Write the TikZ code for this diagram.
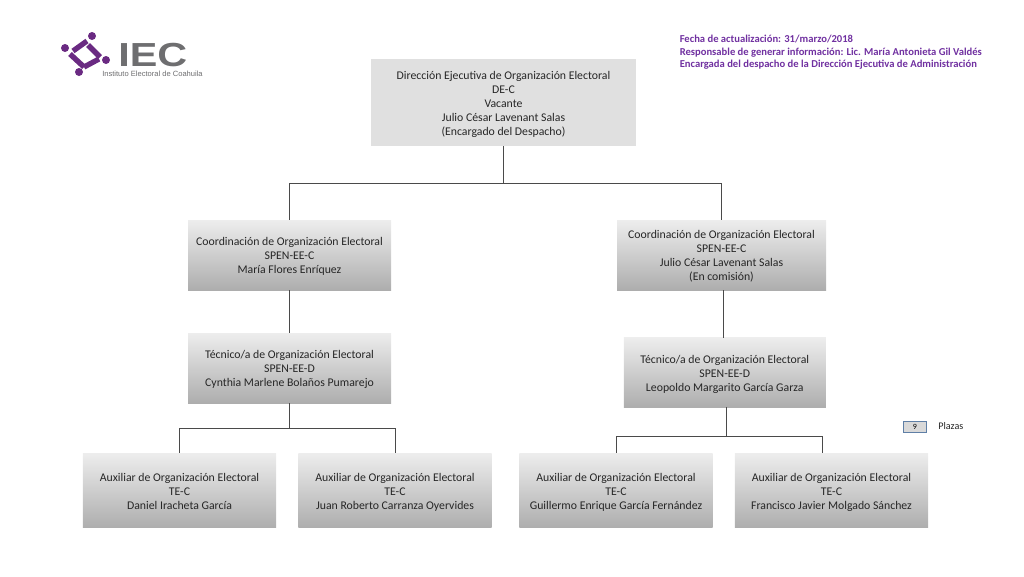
\documentclass[tikz,border=0pt]{standalone}
\usepackage{fontspec}
\setmainfont{Carlito}
\newfontfamily\logofont{Liberation Sans}
\definecolor{purp}{HTML}{7030A0}
\definecolor{logop}{HTML}{6A2A82}
\definecolor{logog}{HTML}{6E6E70}
\definecolor{lin}{HTML}{4A4A4A}
\definecolor{legb}{HTML}{5F7FA6}
\newcommand\tstr{\rule{0pt}{10.35pt}}
\tikzset{
 base/.style={inner sep=0pt,align=center,font=\fontsize{8.83pt}{10.5pt}\selectfont,text=black!85},
 flatbox/.style={base,fill=black!12,minimum width=199pt,minimum height=65.25pt},
 gradbox/.style={base,top color=black!7,bottom color=black!32},
 conn/.style={draw=lin,line width=.6pt},
 note/.style={anchor=west,inner sep=0pt,text=purp,font=\fontsize{7.95pt}{8pt}\selectfont\bfseries},
 bar/.style={line width=4pt,draw=logop},
 dot/.style={circle,fill=logop,inner sep=0pt,minimum size=6pt},
}
\begin{document}
\begin{tikzpicture}[x=.75pt,y=-.75pt]
\useasboundingbox (0,0) rectangle (1024,576);
% logo
\node[dot] (d1) at (65,48) {};
\node[dot] (d2) at (92,36) {};
\node[dot] (d3) at (106,60) {};
\node[dot] (d4) at (79,72) {};
\draw[bar] (73,51) -- (87,41);
\draw[bar] (88,45) -- (100,57);
\draw[bar] (70,54) -- (84,67);
\draw[bar] (84,67) -- (99,59);
\node[anchor=base west,inner sep=0pt,text depth=0pt,text=logog,xscale=1.24,font=\logofont\bfseries\fontsize{25pt}{25pt}\selectfont] (logot) at (118,66) {IEC};
\node[anchor=west,inner sep=0pt,text=logog,font=\logofont\fontsize{5.67pt}{6pt}\selectfont] (logos) at (102,73.5) {Instituto Electoral de Coahuila};
% notes
\node[note] (n1) at (679.5,39.5) {Fecha de actualización: 31/marzo/2018};
\node[note] (n2) at (679.5,52.5) {Responsable de generar información: Lic. María Antonieta Gil Valdés};
\node[note] (n3) at (679.5,65) {Encargada del despacho de la Dirección Ejecutiva de Administración};
% boxes
\node[flatbox] (top) at (503.5,102.5) {\tstr Dirección Ejecutiva de Organización Electoral\\DE-C\\Vacante\\Julio César Lavenant Salas\\(Encargado del Despacho)\strut};
\node[gradbox,minimum width=152.25pt,minimum height=52.5pt] (c1) at (289.5,255) {\tstr Coordinación de Organización Electoral\\SPEN-EE-C\\María Flores Enríquez\strut};
\node[gradbox,minimum width=156.75pt,minimum height=52.5pt] (c2) at (721.5,255) {\tstr Coordinación de Organización Electoral\\SPEN-EE-C\\Julio César Lavenant Salas\\(En comisión)\strut};
\node[gradbox,minimum width=152.25pt,minimum height=52.5pt] (t1) at (289.5,368) {\tstr Técnico/a de Organización Electoral\\SPEN-EE-D\\Cynthia Marlene Bolaños Pumarejo\strut};
\node[gradbox,minimum width=151.5pt,minimum height=52pt] (t2) at (724.75,372.5) {\tstr Técnico/a de Organización Electoral\\SPEN-EE-D\\Leopoldo Margarito García Garza\strut};
\node[gradbox,minimum width=145pt,minimum height=56pt] (a1) at (179.5,490.5) {\tstr Auxiliar de Organización Electoral\\TE-C\\Daniel Iracheta García\strut};
\node[gradbox,minimum width=145pt,minimum height=56pt] (a2) at (395,490.5) {\tstr Auxiliar de Organización Electoral\\TE-C\\Juan Roberto Carranza Oyervides\strut};
\node[gradbox,minimum width=145pt,minimum height=56pt] (a3) at (616,490.5) {\tstr Auxiliar de Organización Electoral\\TE-C\\Guillermo Enrique García Fernández\strut};
\node[gradbox,minimum width=145pt,minimum height=56pt] (a4) at (831.5,490.5) {\tstr Auxiliar de Organización Electoral\\TE-C\\Francisco Javier Molgado Sánchez\strut};
% legend
\node[draw=legb,line width=.8pt,fill=black!15,minimum width=17pt,minimum height=8.5pt,inner sep=0pt,font=\fontsize{6pt}{6pt}\selectfont] (leg) at (915,427) {9};
\node[anchor=west,inner sep=0pt,font=\fontsize{7.6pt}{8pt}\selectfont,text=black!85] (plz) at (938,426.5) {Plazas};
% connectors
\coordinate (b0) at (503.5,183);
\coordinate (b1) at (289.5,428);
\coordinate (b2) at (726,436);
\coordinate (x2) at (723.5,338);
\coordinate (x4) at (822.5,453);
\draw[conn] (top.south) -- (b0);
\draw[conn] (b0) -| (c1.north);
\draw[conn] (b0) -| (c2.north);
\draw[conn] (c1.south) -- (t1.north);
\draw[conn] (x2 |- c2.south) -- (x2);
\draw[conn] (t1.south) -- (b1);
\draw[conn] (b1) -| (a1.north);
\draw[conn] (b1) -| (a2.north);
\draw[conn] (b2 |- t2.south) -- (b2);
\draw[conn] (b2) -| (a3.north);
\draw[conn] (b2) -| (x4);
\end{tikzpicture}
\end{document}
